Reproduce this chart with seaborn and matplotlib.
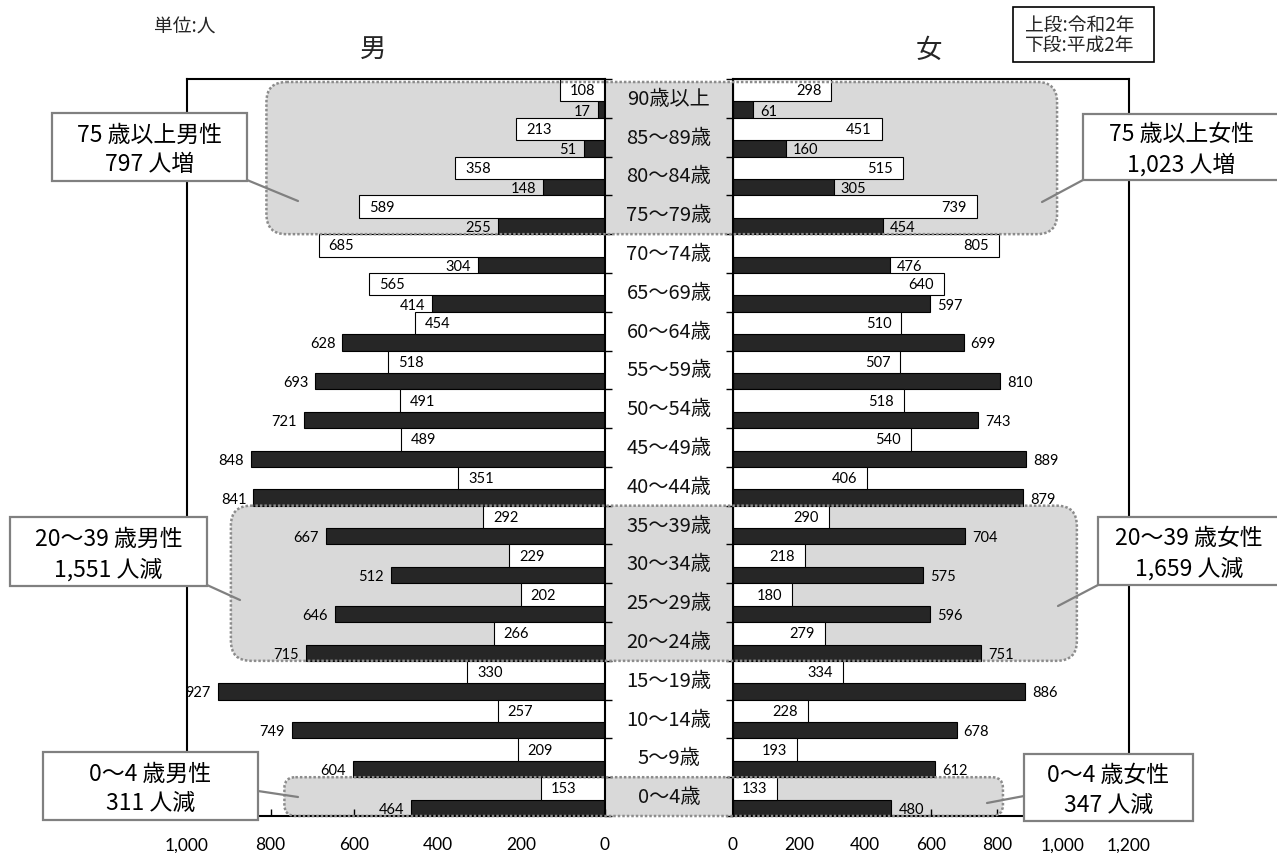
import numpy as np
import matplotlib
matplotlib.use("Agg")
import matplotlib.pyplot as plt
from matplotlib.patches import FancyBboxPatch, Rectangle
from matplotlib.lines import Line2D
from matplotlib.transforms import blended_transform_factory
import seaborn as sns

# ---- data -------------------------------------------------------------
ages = ["90歳以上", "85～89歳", "80～84歳", "75～79歳", "70～74歳", "65～69歳",
        "60～64歳", "55～59歳", "50～54歳", "45～49歳", "40～44歳", "35～39歳",
        "30～34歳", "25～29歳", "20～24歳", "15～19歳", "10～14歳", "5～9歳", "0～4歳"]

male_r2 = [108, 213, 358, 589, 685, 565, 454, 518, 491, 489, 351, 292,
           229, 202, 266, 330, 257, 209, 153]          # 令和2年
male_h2 = [17, 51, 148, 255, 304, 414, 628, 693, 721, 848, 841, 667,
           512, 646, 715, 927, 749, 604, 464]          # 平成2年
female_r2 = [298, 451, 515, 739, 805, 640, 510, 507, 518, 540, 406, 290,
             218, 180, 279, 334, 228, 193, 133]        # 令和2年
female_h2 = [61, 160, 305, 454, 476, 597, 699, 810, 743, 889, 879, 704,
             575, 596, 751, 886, 678, 612, 480]        # 平成2年

male_ticks = [0, 200, 400, 600, 800, 1000]
female_ticks = [0, 200, 400, 600, 800, 1000, 1200]

# highlighted age bands (row index ranges)
bands = {"75": (0, 3), "20": (11, 14), "0": (18, 18)}

# ---- style ------------------------------------------------------------
sns.set_theme(style="white")
JP = ["Noto Sans CJK JP", "DejaVu Sans"]
NUM = ["Lato", "DejaVu Sans"]
plt.rcParams["font.family"] = JP

W, H = 1277, 854
fig = plt.figure(figsize=(W / 100, H / 100), dpi=100)
fig.patch.set_facecolor("white")

TOP, BOT = 80, 817
M_L, M_R = 187, 605
F_L, F_R = 733, 1129


def fbox(x0, x1):
    return [x0 / W, 1 - BOT / H, (x1 - x0) / W, (BOT - TOP) / H]


bg = fig.add_axes([0, 0, 1, 1], zorder=0)
ax_m = fig.add_axes(fbox(M_L, M_R), zorder=1)
ax_f = fig.add_axes(fbox(F_L, F_R), zorder=1)
fg = fig.add_axes([0, 0, 1, 1], zorder=2)
for a in (bg, fg):
    a.set_xlim(0, W)
    a.set_ylim(H, 0)
    a.axis("off")
    a.patch.set_alpha(0)

n = len(ages)
idx = np.arange(n)
W_TOP = 0.58                     # share of a row taken by the upper (令和2年) bar
W_BOT = 1 - W_TOP
pos_new = idx - 0.5 + W_TOP / 2
pos_old = idx + 0.5 - W_BOT / 2

GRAY_BORDER = "#8c8c8c"
BAR_DARK = "#262626"
LABEL_SIZE = 10.5


def draw_side(ax, new, old, xlim, ticks, male):
    sns.barplot(x=old, y=pos_old, orient="y", native_scale=True, width=W_BOT,
                color=BAR_DARK, edgecolor="black", linewidth=0.8,
                saturation=1, errorbar=None, ax=ax)
    sns.barplot(x=new, y=pos_new, orient="y", native_scale=True, width=W_TOP,
                color="white", edgecolor="black", linewidth=0.8,
                saturation=1, errorbar=None, ax=ax)
    ax.set_xlim(*xlim)
    ax.set_ylim(n - 0.5, -0.5)
    ax.set_facecolor("none")
    ax.set_xlabel("")
    ax.set_ylabel("")
    ax.set_xticks(ticks)
    ax.set_xticklabels([f"{t:,}" for t in ticks], fontfamily=NUM, fontsize=12.5)
    ax.tick_params(axis="x", direction="in", length=5, width=1.0, pad=14.5,
                   colors="black", bottom=True)
    ax.set_yticks(np.arange(-0.5, n, 1.0))
    ax.set_yticklabels([])
    if male:
        ax.yaxis.tick_right()
    else:
        ax.yaxis.tick_left()
    ax.tick_params(axis="y", direction="out", length=5, width=1.0, colors="black")
    for s in ax.spines.values():
        s.set_visible(True)
        s.set_color("black")
        s.set_linewidth(1.5)

    sgn = 1 if male else -1
    for v, y in zip(new, pos_new):
        ax.annotate(f"{v}", xy=(v, y), xytext=(10 * sgn, 0),
                    textcoords="offset pixels", ha="left" if male else "right",
                    va="center", fontsize=LABEL_SIZE, fontfamily=NUM, color="black")
    for v, y in zip(old, pos_old):
        ax.annotate(f"{v}", xy=(v, y), xytext=(-7 * sgn, -1),
                    textcoords="offset pixels", ha="right" if male else "left",
                    va="center", fontsize=LABEL_SIZE, fontfamily=NUM, color="black")


draw_side(ax_m, male_r2, male_h2, (1000, 0), male_ticks, True)
draw_side(ax_f, female_r2, female_h2, (0, 1200), female_ticks, False)


def to_px(ax, x, y):
    dx, dy = ax.transData.transform((x, y))
    return dx, H - dy


# ---- shaded age bands ----------------------------------------------------
band_extent = {"75": (810, 982, 20, 3), "20": (895, 1042, 20, 0), "0": (767, 818, 11, 0)}
for key, (r0, r1) in bands.items():
    mx, fx_, rad, inset = band_extent[key]
    x0, y0 = to_px(ax_m, mx, r0 - 0.5)
    x1, y1 = to_px(ax_f, fx_, r1 + 0.5)
    y0 += inset
    bg.add_patch(FancyBboxPatch((x0, y0), x1 - x0, y1 - y0,
                                boxstyle=f"round,pad=0,rounding_size={rad}",
                                fc="#d9d9d9", ec="none"))
    fg.add_patch(FancyBboxPatch((x0, y0), x1 - x0, y1 - y0,
                                boxstyle=f"round,pad=0,rounding_size={rad}",
                                fc="none", ec=GRAY_BORDER, lw=1.8,
                                ls=(0, (1, 0.8))))

# ---- age labels in the centre column ---------------------------------------
mid = blended_transform_factory(fig.transFigure, ax_m.transData)
for i, lab in enumerate(ages):
    ax_m.text((M_R + F_L) / 2 / W, i, lab, transform=mid, ha="center",
              va="center", fontsize=14.5, color="#111111", clip_on=False)

# ---- titles and notes ----------------------------------------------------
fg.text(373, 49, "男", ha="center", va="center", fontsize=19)
fg.text(929, 50, "女", ha="center", va="center", fontsize=19)
fg.text(185, 27, "単位:人", ha="center", va="center", fontsize=13.5)
fg.add_patch(Rectangle((1013, 8), 141, 55, fc="white", ec="black", lw=1.2))
fg.text(1025, 25, "上段:令和2年", ha="left", va="center", fontsize=13.5)
fg.text(1025, 46, "下段:平成2年", ha="left", va="center", fontsize=13.5)


# ---- callouts --------------------------------------------------------------
def band_change(new, old, r0, r1):
    return sum(new[r0:r1 + 1]) - sum(old[r0:r1 + 1])


def callout(box, text, line):
    x0, y0, x1, y1 = box
    fg.add_line(Line2D(line[0], line[1], color="#808080", lw=1.6))
    fg.add_patch(Rectangle((x0, y0), x1 - x0, y1 - y0, fc="white",
                           ec="#808080", lw=1.6))
    fg.text((x0 + x1) / 2, (y0 + y1) / 2 + 2, text, ha="center", va="center",
            fontsize=16.5, linespacing=1.38, color="black")


def word(d):
    return "増" if d > 0 else "減"


r0, r1 = bands["75"]
dm = band_change(male_r2, male_h2, r0, r1)
df_ = band_change(female_r2, female_h2, r0, r1)
callout((52, 114, 247, 182), f"75 歳以上男性\n{abs(dm):,} 人{word(dm)}",
        ([247, 298], [181, 202]))
callout((1083, 115, 1280, 181), f"75 歳以上女性\n{abs(df_):,} 人{word(df_)}",
        ([1083, 1042], [181, 203]))

r0, r1 = bands["20"]
dm = band_change(male_r2, male_h2, r0, r1)
df_ = band_change(female_r2, female_h2, r0, r1)
callout((10, 518, 207, 587), f"20～39 歳男性\n{abs(dm):,} 人{word(dm)}",
        ([207, 240], [586, 601]))
callout((1098, 518, 1280, 586), f"20～39 歳女性\n{abs(df_):,} 人{word(df_)}",
        ([1098, 1058], [586, 607]))

r0, r1 = bands["0"]
dm = band_change(male_r2, male_h2, r0, r1)
df_ = band_change(female_r2, female_h2, r0, r1)
callout((43, 753, 258, 821), f"0～4 歳男性\n{abs(dm):,} 人{word(dm)}",
        ([258, 298], [792, 798]))
callout((1024, 755, 1193, 822), f"0～4 歳女性\n{abs(df_):,} 人{word(df_)}",
        ([1024, 987], [797, 804]))

fig.savefig("out.png", dpi=100, facecolor="white")
